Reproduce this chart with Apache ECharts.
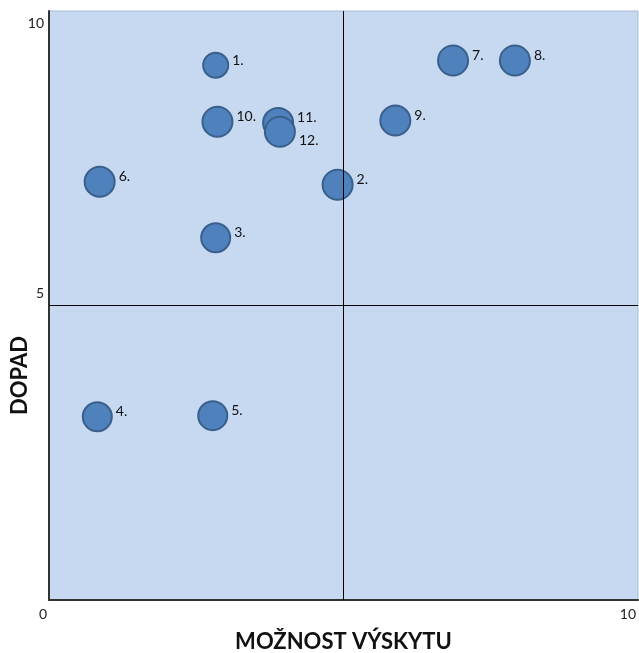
<!DOCTYPE html>
<html><head><meta charset="utf-8">
<script src="https://cdn.jsdelivr.net/npm/echarts@6/dist/echarts.min.js"></script>
<style>html,body{margin:0;padding:0;background:#fff}#c{width:639px;height:653px}</style>
</head><body><div id="c"></div>
<script>
const labels = ['1.','2.','3.','4.','5.','6.','7.','8.','9.','10.','11.','12.'];
const likelihood = [2.83, 4.90, 2.83, 0.82, 2.78, 0.86, 6.86, 7.91, 5.88, 2.86, 3.89, 3.92];
const impact =     [9.08, 7.05, 6.15, 3.11, 3.13, 7.10, 9.16, 9.16, 8.14, 8.12, 8.10, 7.95];
const bubble =     [25, 30, 29, 29, 29, 30, 30, 30, 30, 30, 30, 30];
const xTickLabels = ['0', '10'];
const yTickLabels = ['5', '10'];
const dividers = {x: 5, y: 5};

const data = labels.map((l, i) => ({
  value: [likelihood[i], impact[i]],
  name: l,
  symbolSize: bubble[i],
  label: l === '12.' ? {offset: [0, 9]} : undefined
}));

const chart = echarts.init(document.getElementById('c'));
chart.setOption({
  animation: false,
  textStyle: {fontFamily: 'Lato'},
  grid: {left: 49, top: 11, right: 1, bottom: 53, show: true, containLabel: false,
         outerBoundsMode: 'none',
         backgroundColor: '#c6d9f1', borderColor: '#a9bcd6', borderWidth: 1},
  xAxis: {
    type: 'value', min: 0, max: 10, interval: 10,
    axisLine: {show: true, onZero: false, lineStyle: {color: '#333', width: 2}},
    axisTick: {show: false}, splitLine: {show: false},
    axisLabel: {align: 'right', margin: 7, fontSize: 14, color: '#222', padding: [0, 2, 0, 0],
      formatter: v => xTickLabels.includes(String(v)) ? String(v) : ''},
    name: 'MOŽNOST VÝSKYTU', nameLocation: 'middle', nameGap: 31, nameMoveOverlap: false,
    nameTextStyle: {fontSize: 22, fontWeight: 'bold', color: '#111', fontFamily: 'Lato'}
  },
  yAxis: {
    type: 'value', min: 0, max: 10, interval: 5,
    axisLine: {show: true, onZero: false, lineStyle: {color: '#333', width: 2}},
    axisTick: {show: false}, splitLine: {show: false},
    axisLabel: {margin: 5, fontSize: 14, color: '#222',
      formatter: v => {
        const s = String(v);
        if (!yTickLabels.includes(s)) return '';
        return s === '10' ? '{lo|' + s + '}' : '{hi|' + s + '}';
      },
      rich: {lo: {padding: [24, 0, 0, 0], fontSize: 14, color: '#222'},
             hi: {padding: [0, 0, 24, 0], fontSize: 14, color: '#222'}}
    },
    name: 'DOPAD', nameLocation: 'middle', nameGap: 18, nameRotate: 90, nameMoveOverlap: false,
    nameTextStyle: {fontSize: 22, fontWeight: 'bold', color: '#111', fontFamily: 'Lato',
                    padding: [0, 140, 0, 0]}
  },
  series: [{
    type: 'scatter',
    data: data,
    itemStyle: {color: '#4f81bd', borderColor: '#3a5f8b', borderWidth: 2, opacity: 1},
    label: {show: true, position: 'right', distance: 3, offset: [0, -5],
            formatter: p => p.name, fontSize: 14, color: '#111', fontFamily: 'Lato'},
    markLine: {
      silent: true, symbol: 'none', animation: false,
      lineStyle: {color: '#000', width: 1, type: 'solid'},
      label: {show: false},
      data: [{xAxis: dividers.x}, {yAxis: dividers.y}]
    }
  }]
});
</script></body></html>
